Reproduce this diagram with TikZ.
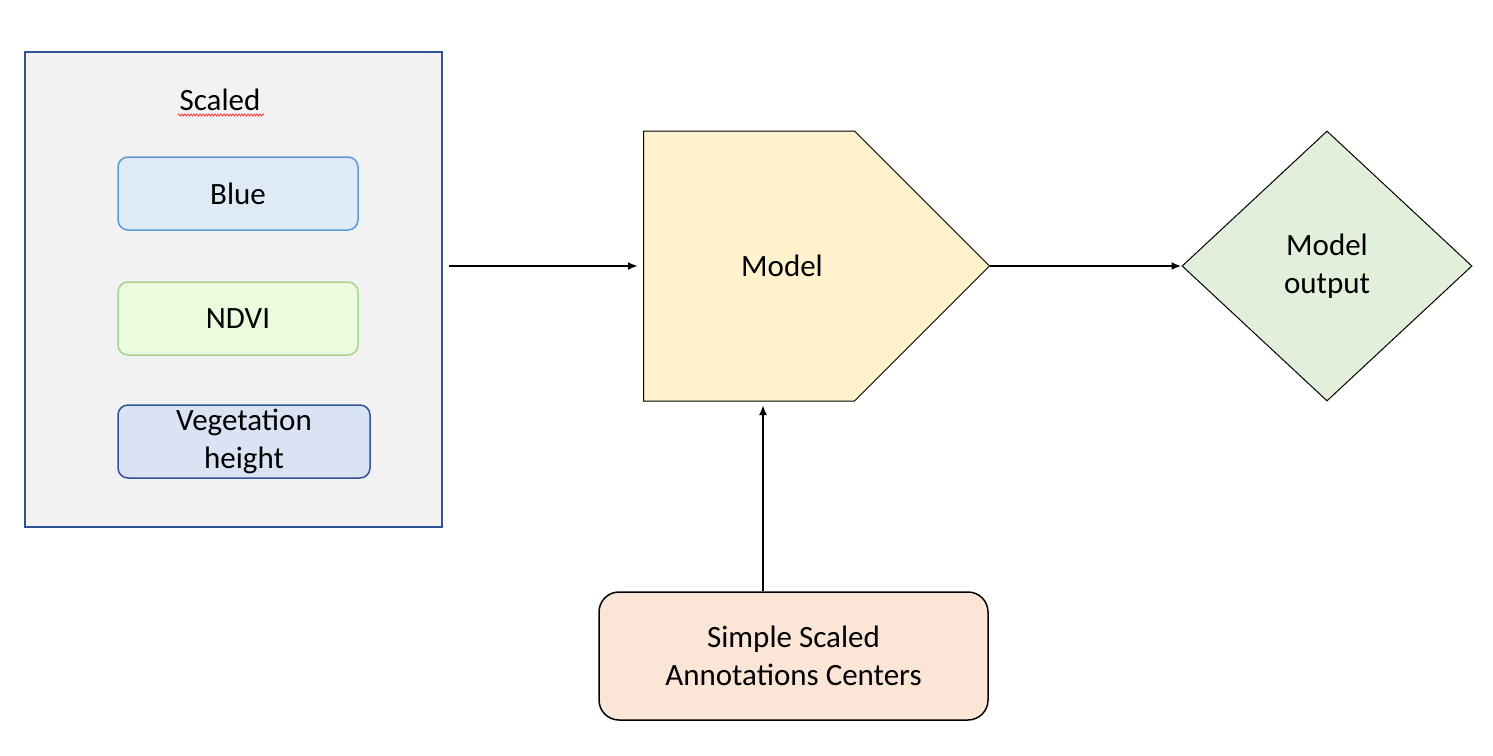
\documentclass[tikz,border=0pt]{standalone}
\usepackage{fontspec}
\setmainfont{Carlito}
\usetikzlibrary{arrows.meta,shapes.geometric,shapes.symbols,decorations.pathmorphing}

\definecolor{panelgray}{HTML}{F2F2F2}
\definecolor{paneledge}{HTML}{2F5597}
\definecolor{bluefill}{HTML}{DEEBF7}
\definecolor{blueedge}{HTML}{5B9BD5}
\definecolor{ndvifill}{HTML}{EAFBDE}
\definecolor{ndviedge}{HTML}{A9D18E}
\definecolor{vegfill}{HTML}{DAE3F3}
\definecolor{modelfill}{HTML}{FFF2CC}
\definecolor{outfill}{HTML}{E2EFDA}
\definecolor{annofill}{HTML}{FBE5D6}

\begin{document}
\begin{tikzpicture}[x=1pt, y=-1pt,
    font=\fontsize{31}{38}\selectfont,
    band/.style ={rectangle, rounded corners=10pt, draw, line width=1.5pt,
                  minimum width=240pt, minimum height=73pt, inner sep=0pt, align=center},
    flow/.style ={line width=2pt, -{Latex[length=10pt,width=8pt]}}]
   \useasboundingbox (0,0) rectangle (1493,755);
   % input panel
   \node[rectangle, draw=paneledge, fill=panelgray, line width=1.5pt,
         minimum width=417pt, minimum height=475pt, inner sep=0pt] (panel) at (233.5,289.5) {};
   \node (scaled) at (220,100) {Scaled};
   \draw[red!80, line width=0.8pt, decorate,
         decoration={snake, amplitude=1pt, segment length=3pt}] (178,115) -- (264,115);
   \node[band, draw=blueedge, fill=bluefill] (blue) at (238,193.5) {Blue};
   \node[band, draw=ndviedge, fill=ndvifill] (ndvi) at (238,318.5) {NDVI};
   \node[band, draw=paneledge, fill=vegfill, minimum width=252pt] (veg) at (244,441.5) {Vegetation\\height};
   % model and output
   \node[signal, signal to=east, signal from=nowhere, signal pointer angle=90,
         draw, fill=modelfill, line width=1pt, inner sep=0pt,
         minimum width=346pt, minimum height=270pt, anchor=west,
         label={[xshift=33pt]center:Model}] (model) at (643,266) {};
   \node[diamond, draw, fill=outfill, line width=1pt, inner sep=0pt,
         minimum width=290pt, minimum height=270pt, align=center] (out) at (1327,266) {Model\\output};
   \node[rectangle, rounded corners=20pt, draw, fill=annofill, line width=1.5pt,
         minimum width=389pt, minimum height=128pt, inner sep=0pt, align=center] (anno) at (793.5,656) {Simple Scaled\\Annotations Centers};
   \coordinate (feed) at (763,401);
   \draw[flow, shorten <=6pt, shorten >=5pt] (panel.east |- model.west) to (model.west);
   \draw[flow] (model.east) to (out.west);
   \draw[flow, shorten >=4pt] (anno.north -| feed) to (feed);
 \end{tikzpicture}
\end{document}
